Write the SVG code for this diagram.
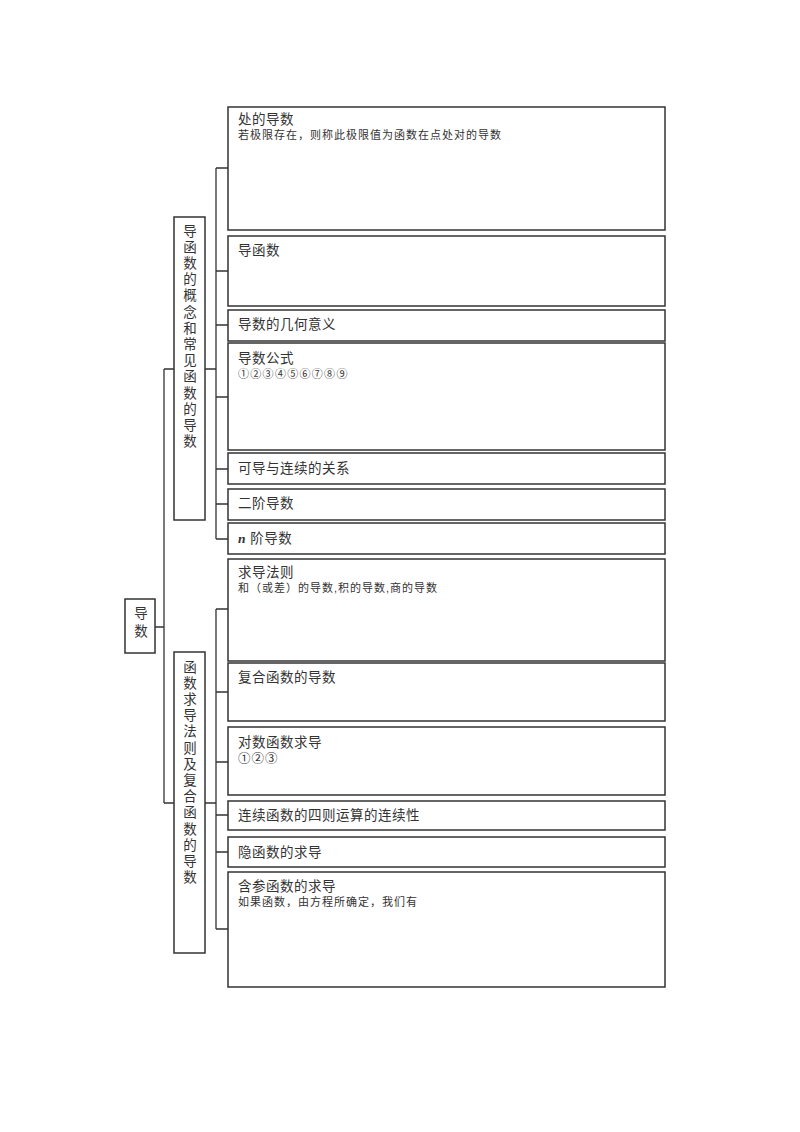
<svg xmlns="http://www.w3.org/2000/svg" width="800" height="1132" viewBox="0 0 800 1132">
<style>
.box{fill:#fff;stroke:#333;stroke-width:1.5}
.ln{fill:none;stroke:#333;stroke-width:1.3}
text{font-family:"Liberation Sans","Noto Sans CJK SC",sans-serif;fill:#333;dominant-baseline:central}
.t{font-size:13.5px;letter-spacing:0.5px}
.s{font-size:11px;letter-spacing:1px}
.v{font-size:13.5px;text-anchor:middle}
</style>
<rect width="800" height="1132" fill="#fff"/>
<g id="connectors">
<path class="ln" d="M155,627H164M164,369V803M164,369H174M164,803H174"/>
<path class="ln" d="M205,369H216M216,168V539M216,168H228M216,271H228M216,325H228M216,397H228M216,469H228M216,504H228M216,539H228"/>
<path class="ln" d="M205,803H216M216,609V929M216,609H228M216,692H228M216,762H228M216,815H228M216,852H228M216,929H228"/>
</g>
<g id="root">
<rect class="box" x="125" y="599" width="30" height="54"/>
<text class="v" x="141" y="613">导</text>
<text class="v" x="141" y="631">数</text>
</g>
<g id="branch1">
<rect class="box" x="174" y="217" width="31" height="303"/>
<text class="v" x="190" y="231">导</text>
<text class="v" x="190" y="247.2">函</text>
<text class="v" x="190" y="263.4">数</text>
<text class="v" x="190" y="279.6">的</text>
<text class="v" x="190" y="295.8">概</text>
<text class="v" x="190" y="312">念</text>
<text class="v" x="190" y="328.2">和</text>
<text class="v" x="190" y="344.4">常</text>
<text class="v" x="190" y="360.6">见</text>
<text class="v" x="190" y="376.8">函</text>
<text class="v" x="190" y="393">数</text>
<text class="v" x="190" y="409.2">的</text>
<text class="v" x="190" y="425.4">导</text>
<text class="v" x="190" y="441.6">数</text>
</g>
<g id="branch2">
<rect class="box" x="174" y="652" width="31" height="301"/>
<text class="v" x="190" y="667">函</text>
<text class="v" x="190" y="683.2">数</text>
<text class="v" x="190" y="699.4">求</text>
<text class="v" x="190" y="715.6">导</text>
<text class="v" x="190" y="731.8">法</text>
<text class="v" x="190" y="748">则</text>
<text class="v" x="190" y="764.2">及</text>
<text class="v" x="190" y="780.4">复</text>
<text class="v" x="190" y="796.6">合</text>
<text class="v" x="190" y="812.8">函</text>
<text class="v" x="190" y="829">数</text>
<text class="v" x="190" y="845.2">的</text>
<text class="v" x="190" y="861.4">导</text>
<text class="v" x="190" y="877.6">数</text>
</g>
<g id="leaf1">
<rect class="box" x="228" y="107" width="437" height="123"/>
<text class="t" x="238" y="119">处的导数</text>
<text class="s" x="238" y="134.5">若极限存在，则称此极限值为函数在点处对的导数</text>
</g>
<g id="leaf2">
<rect class="box" x="228" y="236" width="437" height="70"/>
<text class="t" x="238" y="250">导函数</text>
</g>
<g id="leaf3">
<rect class="box" x="228" y="310" width="437" height="31"/>
<text class="t" x="238" y="324">导数的几何意义</text>
</g>
<g id="leaf4">
<rect class="box" x="228" y="343" width="437" height="107"/>
<text class="t" x="238" y="358">导数公式</text>
<text class="s" x="238" y="373.5" style="letter-spacing:1.3px">①②③④⑤⑥⑦⑧⑨</text>
</g>
<g id="leaf5">
<rect class="box" x="228" y="453" width="437" height="31"/>
<text class="t" x="238" y="468">可导与连续的关系</text>
</g>
<g id="leaf6">
<rect class="box" x="228" y="489" width="437" height="31"/>
<text class="t" x="238" y="503">二阶导数</text>
</g>
<g id="leaf7">
<rect class="box" x="228" y="523" width="437" height="31"/>
<text class="t" x="238" y="538"><tspan style="font-family:'Liberation Serif',serif;font-style:italic;font-weight:bold">n</tspan> 阶导数</text>
</g>
<g id="leaf8">
<rect class="box" x="228" y="559" width="437" height="102"/>
<text class="t" x="238" y="572">求导法则</text>
<text class="s" x="238" y="587.5">和（或差）的导数,积的导数,商的导数</text>
</g>
<g id="leaf9">
<rect class="box" x="228" y="663" width="437" height="58"/>
<text class="t" x="238" y="677">复合函数的导数</text>
</g>
<g id="leaf10">
<rect class="box" x="228" y="727" width="437" height="68"/>
<text class="t" x="238" y="742">对数函数求导</text>
<text class="t" x="238" y="758.5" style="font-size:12.5px;letter-spacing:1px">①②③</text>
</g>
<g id="leaf11">
<rect class="box" x="228" y="801" width="437" height="29"/>
<text class="t" x="238" y="815">连续函数的四则运算的连续性</text>
</g>
<g id="leaf12">
<rect class="box" x="228" y="837" width="437" height="30"/>
<text class="t" x="238" y="852">隐函数的求导</text>
</g>
<g id="leaf13">
<rect class="box" x="228" y="872" width="437" height="115"/>
<text class="t" x="238" y="886">含参函数的求导</text>
<text class="s" x="238" y="901.5">如果函数，由方程所确定，我们有</text>
</g>
</svg>
